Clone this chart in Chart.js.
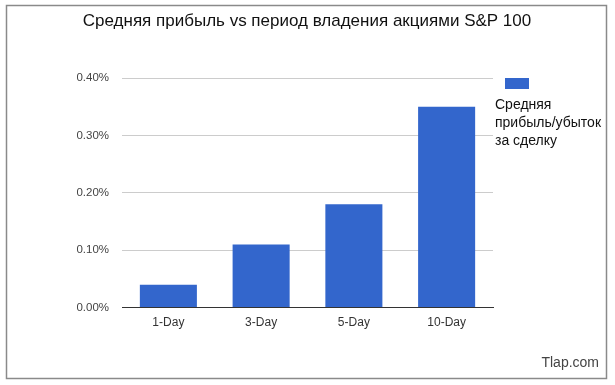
<!DOCTYPE html>
<html>
<head>
<meta charset="utf-8">
<title>S&P 100</title>
<script src="https://cdn.jsdelivr.net/npm/chart.js@4.4.0/dist/chart.umd.min.js"></script>
<style>
  html, body { margin: 0; padding: 0; background: #fff; }
  #wrap { position: relative; width: 615px; height: 385px; }
</style>
</head>
<body>
<div id="wrap"><canvas id="myChart" width="615" height="385"></canvas></div>
<script>
const chartTitle = 'Средняя прибыль vs период владения акциями S&P 100';
const categories = ['1-Day', '3-Day', '5-Day', '10-Day'];
const avgProfit = [0.04, 0.11, 0.18, 0.35]; // percent per trade
const seriesLabel = ['Средняя', 'прибыль/убыток', 'за сделку'];
const yTicks = [0, 0.1, 0.2, 0.3, 0.4];
const credit = 'Tlap.com';

const handFont = '"Liberation Sans", "DejaVu Sans", sans-serif';
const tickFont = '"Liberation Sans", Arial, sans-serif';

// frame, title, legend block on the right and the credit line
const decorations = {
    id: 'decorations',
    beforeDraw(chart) {
        const c = chart.ctx;
        c.save();
        c.fillStyle = '#fff';
        c.fillRect(0, 0, chart.width, chart.height);
        c.strokeStyle = '#8a8a8a';
        c.lineWidth = 1.5;
        c.strokeRect(6.5, 5.5, 600, 373);
        c.restore();
    },
    afterDraw(chart) {
        const c = chart.ctx;
        const ds = chart.data.datasets[0];
        c.save();
        c.fillStyle = '#111';
        c.font = '17px ' + handFont;
        c.textBaseline = 'middle';
        c.textAlign = 'center';
        c.fillText(chartTitle, 307, 21);

        c.fillStyle = ds.backgroundColor;
        c.fillRect(505, 78, 24, 11);
        c.fillStyle = '#111';
        c.font = '14px ' + handFont;
        c.textAlign = 'left';
        ds.label.forEach((line, i) => c.fillText(line, 495, 105 + i * 18));

        c.fillStyle = '#444';
        c.font = '14px ' + handFont;
        c.textAlign = 'right';
        c.fillText(credit, 599, 363);
        c.restore();
    }
};

new Chart(document.getElementById('myChart').getContext('2d'), {
    type: 'bar',
    data: {
        labels: categories,
        datasets: [{
            label: seriesLabel,
            data: avgProfit,
            backgroundColor: '#3366cc',
            borderWidth: 0,
            categoryPercentage: 1,
            barPercentage: 0.615
        }]
    },
    options: {
        responsive: false,
        animation: false,
        layout: { padding: { left: 0, right: 122, top: 78, bottom: 47 } },
        plugins: {
            legend: { display: false },
            tooltip: { enabled: false },
            title: { display: false }
        },
        scales: {
            x: {
                grid: { display: false, drawTicks: false },
                border: { display: true, color: '#333', width: 1 },
                ticks: {
                    color: '#333',
                    padding: 8,
                    font: { family: tickFont, size: 12 }
                }
            },
            y: {
                min: 0,
                max: 0.4,
                afterFit(scale) { scale.width = 122; },
                afterBuildTicks(scale) { scale.ticks = yTicks.map(v => ({ value: v })); },
                grid: { color: '#cccccc', drawTicks: false },
                border: { display: false },
                ticks: {
                    color: '#444',
                    padding: 13,
                    font: { family: tickFont, size: 11.5 },
                    callback: v => v.toFixed(2) + '%'
                }
            }
        }
    },
    plugins: [decorations]
});
</script>
</body>
</html>
